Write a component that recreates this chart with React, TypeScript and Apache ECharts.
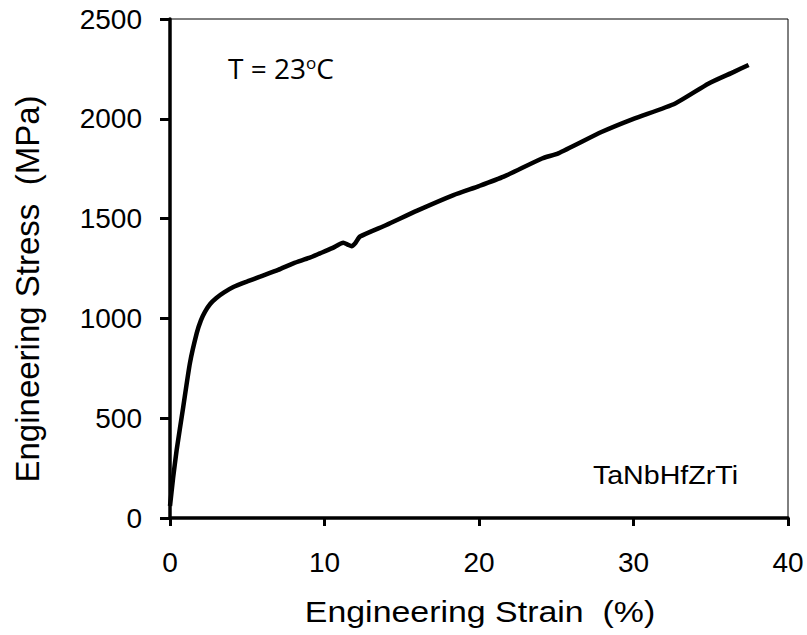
import React, { useEffect, useRef } from "react";
import * as echarts from "echarts";

const strain: number[] = [0, 0.2, 0.43, 0.86, 1.29, 1.73, 2.0, 2.27, 2.6, 3.0, 3.5, 4.1, 5.0, 5.83, 7.0, 7.98, 9.0, 9.71, 10.5, 11.22, 11.5, 11.76, 12.0, 12.3, 14.0, 16.0, 18.35, 20.0, 21.6, 24.08, 25.13, 27.96, 30.0, 32.7, 34.87, 36.5, 37.45];
const stress: number[] = [60, 200, 340, 558, 776, 926, 990, 1034, 1072, 1102, 1130, 1157, 1185, 1209, 1243, 1276, 1303, 1326, 1352, 1379, 1370, 1362, 1378, 1410, 1468, 1540, 1618, 1663, 1710, 1801, 1827, 1935, 2000, 2077, 2177, 2235, 2270];

const xTitle = "Engineering Strain  (%)";
const yTitle = "Engineering Stress  (MPa)";
const alloyLabel = "TaNbHfZrTi";

export default function App() {
  const ref = useRef<HTMLDivElement>(null);
  useEffect(() => {
    if (!ref.current) return;
    const chart = echarts.init(ref.current, undefined, { renderer: "svg" });
    const font = "'Liberation Sans', Arial, sans-serif";
    chart.setOption({
      animation: false,
      backgroundColor: "#ffffff",
      grid: {
        left: 170,
        right: 19,
        top: 19,
        bottom: 117,
        show: true,
        borderColor: "#000",
        borderWidth: 1,
        backgroundColor: "transparent",
      },
      xAxis: {
        type: "value",
        min: 0,
        max: 40,
        interval: 10,
        splitLine: { show: false },
        axisLine: { show: true, lineStyle: { color: "#000", width: 3.5 } },
        axisTick: { show: true, length: 8, lineStyle: { color: "#000", width: 3 } },
        axisLabel: { color: "#000", fontSize: 28, fontFamily: font, margin: 30, formatter: (v: number) => String(v) },
      },
      yAxis: {
        type: "value",
        min: 0,
        max: 2500,
        interval: 500,
        splitLine: { show: false },
        axisLine: { show: true, lineStyle: { color: "#000", width: 3.5 } },
        axisTick: { show: true, length: 10, lineStyle: { color: "#000", width: 3 } },
        axisLabel: { color: "#000", fontSize: 28, fontFamily: font, margin: 28, formatter: (v: number) => String(v) },
      },
      series: [
        {
          type: "line",
          data: strain.map((s, i) => [s, stress[i]]),
          showSymbol: false,
          smooth: 0.2,
          lineStyle: { color: "#000", width: 4.5 },
        },
      ],
      graphic: [
        {
          type: "text",
          x: 480,
          y: 612,
          scaleX: 1.13,
          style: {
            text: xTitle,
            fontSize: 30,
            fontFamily: font,
            fill: "#000",
            align: "center",
            verticalAlign: "middle",
          },
        },
        {
          type: "text",
          x: 27,
          y: 289,
          rotation: Math.PI / 2,
          style: {
            text: yTitle,
            fontSize: 33,
            fontFamily: font,
            fill: "#000",
            align: "center",
            verticalAlign: "middle",
          },
        },
        {
          type: "text",
          x: 738,
          y: 475,
          scaleX: 1.1,
          style: {
            text: alloyLabel,
            fontSize: 26,
            fontFamily: font,
            fill: "#000",
            align: "right",
            verticalAlign: "middle",
          },
        },
        {
          type: "text",
          x: 228,
          y: 68,
          style: {
            text: "{n|T = 23}{s|o}{n|C}",
            fill: "#000",
            verticalAlign: "middle",
            align: "left",
            rich: {
              n: { fontSize: 28, fontFamily: "'Open Sans', sans-serif", fill: "#000" },
              s: { fontSize: 17, fontFamily: "'Open Sans', sans-serif", fill: "#000", verticalAlign: "top", padding: [0, 0, 12, 0] },
            },
          },
        },
      ],
    });
    return () => chart.dispose();
  }, []);
  return <div ref={ref} style={{ width: 807, height: 635, position: "absolute", left: 0, top: 0 }} />;
}
